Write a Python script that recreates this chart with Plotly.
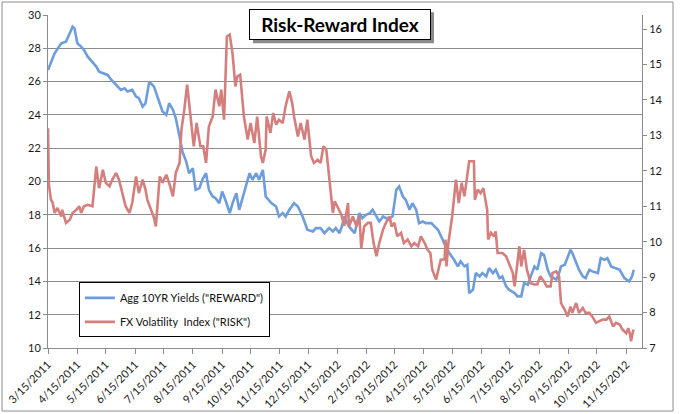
import pandas as pd
import plotly.graph_objects as go

# Days since 3/15/2011 and values.
start = pd.Timestamp("2011-03-15")

reward_day = [0, 7, 14, 19, 23, 26, 28, 31, 35, 38, 42, 45, 51, 54, 59, 63, 67, 72, 77, 81,
              84, 89, 93, 96, 100, 103, 107, 112, 118, 121, 125, 128, 132, 135, 139, 142, 146, 149, 153, 156,
              160, 163, 167, 170, 174, 177, 181, 184, 188, 192, 195, 199, 202, 206, 210, 213, 216, 220, 223, 227,
              230, 236, 241, 244, 248, 251, 255, 260, 264, 269, 274, 280, 283, 288, 292, 297, 301, 304, 308, 311,
              313, 318, 324, 329, 332, 336, 340, 343, 347, 350, 354, 357, 361, 364, 368, 371, 375, 378, 382, 385,
              389, 392, 396, 399, 405, 408, 412, 417, 420, 424, 429, 433, 436, 440, 443, 445, 449, 452, 456, 459,
              463, 466, 470, 473, 477, 480, 484, 487, 493, 496, 500, 503, 507, 510, 514, 517, 521, 524, 528, 531,
              537, 540, 542, 546, 549, 552, 554, 558, 561, 565, 568, 572, 575, 581, 584, 588, 591, 595, 600, 604,
              609, 614, 617, 619]
reward_val = [26.7, 27.7, 28.3, 28.4, 28.9, 29.3, 29.2, 28.3, 28.1, 27.9, 27.5, 27.3, 26.9, 26.6, 26.5, 26.4, 26.1, 25.8, 25.5, 25.6,
              25.4, 25.5, 25.1, 25.0, 24.5, 24.7, 26.0, 25.7, 24.7, 24.2, 24.0, 24.7, 24.3, 23.8, 22.7, 21.8, 21.2, 20.5, 20.8, 19.5,
              19.6, 20.1, 20.5, 19.5, 19.1, 19.0, 18.7, 19.4, 18.8, 18.1, 18.7, 19.3, 18.3, 19.1, 19.8, 20.5, 20.1, 20.5, 20.1, 20.7,
              19.1, 18.7, 18.5, 17.9, 18.1, 17.9, 18.3, 18.7, 18.5, 17.9, 17.1, 17.0, 17.2, 17.2, 16.9, 17.2, 17.0, 17.2, 16.9, 17.4,
              17.9, 17.3, 16.9, 18.1, 17.8, 18.0, 18.1, 18.3, 17.9, 17.6, 17.9, 17.8, 17.8, 17.9, 19.5, 19.7, 19.1, 18.9, 18.3, 18.7,
              18.3, 17.5, 17.6, 17.5, 17.5, 17.3, 17.1, 16.5, 16.1, 15.7, 15.3, 14.9, 15.2, 14.9, 15.0, 13.3, 13.5, 14.5, 14.3, 14.5,
              14.3, 14.8, 14.5, 14.7, 14.2, 14.3, 13.7, 13.5, 13.3, 13.1, 13.1, 13.9, 13.8, 14.3, 14.9, 14.7, 15.7, 15.6, 14.7, 14.3,
              14.1, 14.5, 14.9, 15.0, 15.4, 15.9, 15.7, 15.1, 14.7, 14.3, 14.2, 14.7, 14.6, 14.5, 15.4, 15.3, 15.4, 14.9, 14.8, 14.7,
              14.2, 14.0, 14.3, 14.7]

risk_day = [0, 1, 3, 5, 7, 10, 14, 15, 19, 23, 26, 30, 33, 35, 38, 42, 47, 51, 54, 58,
            61, 65, 68, 72, 75, 79, 82, 86, 89, 93, 96, 100, 103, 105, 109, 112, 114, 118, 121, 125,
            128, 132, 135, 139, 141, 144, 147, 151, 154, 157, 161, 164, 167, 170, 174, 177, 181, 183, 186, 189,
            192, 195, 198, 200, 203, 207, 211, 214, 218, 221, 225, 227, 230, 231, 235, 238, 241, 244, 248, 251,
            255, 258, 260, 264, 267, 271, 274, 278, 281, 285, 288, 291, 294, 297, 301, 303, 307, 310, 313, 317,
            318, 322, 326, 329, 331, 334, 338, 341, 344, 347, 350, 354, 357, 361, 363, 366, 369, 373, 376, 380,
            384, 387, 391, 394, 398, 401, 404, 406, 410, 413, 415, 419, 420, 421, 423, 427, 431, 434, 437, 440,
            442, 445, 450, 451, 454, 457, 460, 464, 465, 468, 471, 473, 475, 480, 484, 487, 491, 493, 495, 498,
            500, 503, 506, 508, 510, 514, 517, 520, 524, 527, 531, 533, 537, 540, 542, 544, 546, 549, 552, 554,
            558, 561, 565, 568, 572, 575, 579, 582, 586, 590, 593, 597, 600, 604, 607, 611, 613, 615, 616, 618,
            619]
risk_val = [13.2, 11.6, 11.2, 11.09, 10.81, 10.95, 10.71, 10.9, 10.53, 10.62, 10.81, 10.9, 11.0, 10.81, 11.0, 11.04, 11.0, 12.12, 11.51, 12.03,
            11.66, 11.56, 11.75, 11.94, 11.75, 11.28, 11.0, 10.81, 11.09, 11.84, 11.37, 11.75, 11.47, 11.18, 10.9, 10.67, 10.43, 11.84, 11.66, 11.89,
            11.66, 11.28, 11.94, 12.22, 13.16, 13.72, 14.43, 13.44, 12.69, 13.35, 12.69, 12.69, 12.22, 13.25, 13.53, 14.29, 13.82, 14.29, 13.44, 15.79,
            15.84, 15.3, 14.38, 14.66, 14.71, 13.53, 12.88, 13.35, 12.78, 13.53, 12.41, 12.22, 12.6, 13.53, 13.07, 13.63, 13.3, 13.44, 13.35, 13.82,
            14.24, 13.91, 13.53, 12.97, 13.35, 12.88, 13.44, 12.41, 12.22, 12.31, 12.22, 12.69, 12.6, 11.84, 10.81, 11.14, 10.9, 10.76, 10.45, 11.09,
            10.43, 10.71, 10.43, 10.71, 9.82, 10.43, 10.53, 10.53, 9.96, 9.59, 9.96, 10.34, 10.53, 10.71, 10.43, 10.53, 10.15, 10.25, 9.96, 10.06,
            9.87, 9.96, 9.87, 10.15, 9.96, 9.77, 9.68, 9.21, 8.93, 9.3, 9.49, 9.5, 10.06, 9.3, 9.96, 10.71, 11.75, 11.09, 11.66, 11.28,
            11.66, 12.27, 12.27, 11.18, 11.47, 11.37, 11.51, 10.9, 10.06, 10.25, 10.15, 10.29, 9.68, 9.68, 9.59, 9.4, 9.12, 8.74, 9.21, 9.87,
            9.3, 9.77, 9.21, 9.02, 8.83, 8.79, 8.79, 9.02, 8.88, 8.74, 8.74, 9.12, 9.16, 9.02, 8.27, 8.17, 8.08, 7.89, 8.17, 7.99,
            8.27, 7.99, 8.13, 7.99, 7.99, 7.89, 7.71, 7.75, 7.8, 7.8, 7.89, 7.61, 7.71, 7.66, 7.52, 7.42, 7.56, 7.38, 7.19, 7.47,
            7.52]

reward_dates = start + pd.to_timedelta(reward_day, unit="D")
risk_dates = start + pd.to_timedelta(risk_day, unit="D")

font = "Lato, 'DejaVu Sans', sans-serif"
grid = "#8c8c8c"

fig = go.Figure()
fig.add_trace(go.Scatter(x=reward_dates, y=reward_val, mode="lines",
                         name='Agg 10YR Yields ("REWARD")', legendgroup="reward",
                         line=dict(color="#6d9ddb", width=2.6)))
fig.add_trace(go.Scatter(x=risk_dates, y=risk_val, mode="lines", yaxis="y2",
                         name='FX Volatility  Index ("RISK")', legendgroup="risk",
                         line=dict(color="#d47f7d", width=2.6)))

fig.update_layout(
    width=680, height=414,
    margin=dict(l=48, r=38, t=15, b=66),
    paper_bgcolor="white", plot_bgcolor="white",
    font=dict(family=font, size=11, color="#1a1a1a"),
    showlegend=True,
    legend=dict(x=0.052, y=0.197, xanchor="left", yanchor="top",
                bgcolor="white", bordercolor="black", borderwidth=1,
                font=dict(size=11, color="#111"), tracegroupgap=5),
    xaxis=dict(type="date", range=["2011-03-15", "2012-12-01 14:00"],
               tick0="2011-03-15", dtick="M1", tickformat="%-m/%-d/%Y",
               tickangle=-45, ticks="outside", ticklen=5, tickcolor=grid,
               showline=True, linecolor=grid, linewidth=1, showgrid=False,
               tickfont=dict(size=11), automargin=False),
    yaxis=dict(range=[10, 30], dtick=2, ticks="outside", ticklen=4, tickcolor=grid,
               showline=True, linecolor=grid, linewidth=1,
               showgrid=True, gridcolor=grid, gridwidth=1, zeroline=False,
               tickfont=dict(size=11), automargin=False),
    yaxis2=dict(range=[7, 16.395], dtick=1, overlaying="y", side="right",
                ticks="outside", ticklen=4, tickcolor=grid,
                showline=True, linecolor=grid, linewidth=1,
                showgrid=False, zeroline=False, tickfont=dict(size=11),
                automargin=False),
)

# Outer chart border
fig.add_shape(type="rect", xref="paper", yref="paper",
              x0=-0.0774, x1=1.0522, y0=-0.1892, y1=1.039,
              line=dict(color=grid, width=1), fillcolor="rgba(0,0,0,0)", layer="below")

# Shadows behind title box and legend
fig.add_shape(type="rect", xref="paper", yref="paper",
              x0=0.3451, x1=0.6498, y0=0.9151, y1=1.008,
              line=dict(width=0), fillcolor="#8a8a8a", layer="above")
fig.add_shape(type="rect", xref="paper", yref="paper",
              x0=0.0572, x1=0.3718, y0=0.048, y1=0.188,
              line=dict(width=0), fillcolor="#8a8a8a", layer="above")

fig.add_annotation(x=0.4924, y=0.972, xref="paper", yref="paper",
                   text="<b>Risk-Reward Index</b>", showarrow=False,
                   xanchor="center", yanchor="middle",
                   width=178, height=27, bgcolor="white",
                   bordercolor="black", borderwidth=1,
                   font=dict(family=font, size=19, color="black"))

# drop the default page margin so the figure sits at the window's top-left corner
fig.write_html("out.html", config={"displayModeBar": False},
               post_script="document.body.style.margin='0';")
